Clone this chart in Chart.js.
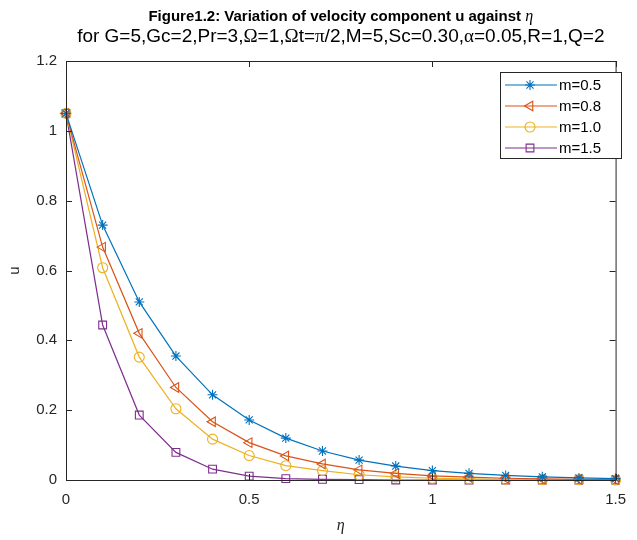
<!DOCTYPE html>
<html>
<head>
<meta charset="utf-8">
<script src="https://cdn.jsdelivr.net/npm/chart.js@4/dist/chart.umd.min.js"></script>
<style>
  html, body { margin: 0; padding: 0; background: #fff; }
  #wrap { width: 637px; height: 540px; position: relative; }
</style>
</head>
<body>
<div id="wrap"><canvas id="chart" width="637" height="540"></canvas></div>
<script>
// values
const eta = [0, 0.1, 0.2, 0.3, 0.4, 0.5, 0.6, 0.7, 0.8, 0.9, 1.0, 1.1, 1.2, 1.3, 1.4, 1.5];
const uM05 = [1.05, 0.73, 0.51, 0.355, 0.244, 0.172, 0.12, 0.083, 0.057, 0.04, 0.027, 0.019, 0.013, 0.009, 0.006, 0.004];
const uM08 = [1.05, 0.667, 0.42, 0.265, 0.167, 0.107, 0.069, 0.046, 0.029, 0.019, 0.012, 0.008, 0.005, 0.003, 0.002, 0.001];
const uM10 = [1.05, 0.608, 0.352, 0.204, 0.117, 0.07, 0.041, 0.027, 0.015, 0.009, 0.005, 0.003, 0.002, 0.001, 0.001, 0];
const uM15 = [1.05, 0.444, 0.186, 0.079, 0.031, 0.011, 0.004, 0.002, 0.001, 0, 0, 0, 0, 0, 0, 0];
const seriesNames = ["m=0.5", "m=0.8", "m=1.0", "m=1.5"];
const xTicks = [0, 0.5, 1, 1.5];
const yTicks = [0, 0.2, 0.4, 0.6, 0.8, 1, 1.2];

const AXIS = "#262626";
const FONT = "'Liberation Sans', Arial, Helvetica, sans-serif";
const SERIF = "'Liberation Serif', 'DejaVu Serif', serif";

function pts(ys) {
  return eta.map((x, i) => ({ x, y: ys[i] }));
}

function ds(label, ys, color, style, radius, rotation) {
  return {
    label,
    data: pts(ys),
    borderColor: color,
    backgroundColor: "transparent",
    borderWidth: 1.2,
    pointStyle: style,
    pointRotation: rotation || 0,
    pointRadius: radius,
    pointBorderWidth: 1.1,
    pointBorderColor: color,
    pointBackgroundColor: "transparent",
    tension: 0,
    clip: false,
  };
}

// one line of text in several fonts, centred on cx
function drawRuns(ctx, runs, cx, y) {
  let total = 0;
  runs.forEach(r => { ctx.font = r.font; r.w = ctx.measureText(r.text).width; total += r.w; });
  let x = cx - total / 2;
  ctx.textBaseline = "middle";
  ctx.textAlign = "left";
  runs.forEach(r => { ctx.font = r.font; ctx.fillText(r.text, x, y); x += r.w; });
}

const decorPlugin = {
  id: "decor",
  afterDraw(chart) {
    const { ctx, chartArea: a, scales } = chart;
    ctx.save();

    // box + inward ticks
    ctx.strokeStyle = AXIS;
    ctx.lineWidth = 1;
    ctx.strokeRect(a.left + 0.5, a.top + 0.5, a.right - a.left, a.bottom - a.top);
    ctx.beginPath();
    xTicks.forEach(v => {
      const px = Math.round(scales.x.getPixelForValue(v)) + 0.5;
      ctx.moveTo(px, a.bottom); ctx.lineTo(px, a.bottom - 6);
      ctx.moveTo(px, a.top); ctx.lineTo(px, a.top + 6);
    });
    yTicks.forEach(v => {
      const py = Math.round(scales.y.getPixelForValue(v)) + 0.5;
      ctx.moveTo(a.left, py); ctx.lineTo(a.left + 6, py);
      ctx.moveTo(a.right, py); ctx.lineTo(a.right - 6, py);
    });
    ctx.stroke();

    // titles
    ctx.fillStyle = "#000";
    const cx = (a.left + a.right) / 2;
    drawRuns(ctx, [
      { text: "Figure1.2: Variation of velocity component u against ", font: "bold 15px " + FONT },
      { text: "η", font: "italic 16px " + SERIF },
    ], cx, 17);
    const nf = "19px " + FONT;
    const sym = "19px " + SERIF;
    drawRuns(ctx, [
      { text: "for G=5,Gc=2,Pr=3,", font: nf },
      { text: "Ω", font: sym },
      { text: "=1,", font: nf },
      { text: "Ω", font: sym },
      { text: "t=", font: nf },
      { text: "π", font: sym },
      { text: "/2,M=5,Sc=0.30,", font: nf },
      { text: "α", font: sym },
      { text: "=0.05,R=1,Q=2", font: nf },
    ], cx, 37);

    // legend
    const lx = 500, ly = 72, lw = 121, lh = 86;
    ctx.fillStyle = "#fff";
    ctx.fillRect(lx, ly, lw, lh);
    ctx.strokeStyle = AXIS;
    ctx.strokeRect(lx + 0.5, ly + 0.5, lw, lh);
    chart.data.datasets.forEach((d, i) => {
      const y = ly + 13 + i * 21;
      ctx.strokeStyle = d.borderColor;
      ctx.lineWidth = 1.2;
      ctx.beginPath();
      ctx.moveTo(lx + 5, y); ctx.lineTo(lx + 57, y);
      ctx.stroke();
      ctx.lineWidth = 1.1;
      ctx.fillStyle = "rgba(0,0,0,0)";
      Chart.helpers.drawPoint(ctx, {
        pointStyle: d.pointStyle, rotation: d.pointRotation,
        radius: d.pointRadius, borderWidth: 1.1,
      }, lx + 30, y);
      ctx.fillStyle = "#000";
      ctx.font = "15px " + FONT;
      ctx.textAlign = "left";
      ctx.textBaseline = "middle";
      ctx.fillText(d.label, lx + 59, y + 1);
    });
    ctx.restore();
  },
};

new Chart(document.getElementById("chart"), {
  type: "line",
  data: {
    datasets: [
      ds(seriesNames[0], uM05, "#0072BD", "star", 5),
      ds(seriesNames[1], uM08, "#D95319", "triangle", 5.5, 270),
      ds(seriesNames[2], uM10, "#EDB120", "circle", 5),
      ds(seriesNames[3], uM15, "#7E2F8E", "rect", 5.5),
    ],
  },
  options: {
    responsive: false,
    animation: false,
    layout: { padding: { top: 61, right: 10, left: 0, bottom: 0 } },
    plugins: { legend: { display: false }, title: { display: false }, tooltip: { enabled: false } },
    scales: {
      x: {
        type: "linear", min: 0, max: 1.5,
        afterBuildTicks: s => { s.ticks = xTicks.map(v => ({ value: v })); },
        afterFit: s => { s.height = 60; },
        grid: { display: false, drawTicks: false, tickLength: 0 },
        border: { display: false },
        ticks: { color: AXIS, padding: 11, maxRotation: 0, font: { family: FONT, size: 15 },
                 callback: v => String(v) },
        title: { display: true, text: "η", color: AXIS, padding: { bottom: 5 },
                 font: { family: SERIF, size: 16, style: "italic" } },
      },
      y: {
        min: 0, max: 1.2,
        afterBuildTicks: s => { s.ticks = yTicks.map(v => ({ value: v })); },
        afterFit: s => { s.width = 66; },
        grid: { display: false, drawTicks: false, tickLength: 0 },
        border: { display: false },
        ticks: { color: AXIS, padding: 9, font: { family: FONT, size: 15 },
                 callback: v => String(v) },
        title: { display: true, text: "u", color: AXIS, padding: { top: 6 },
                 font: { family: FONT, size: 15 } },
      },
    },
  },
  plugins: [decorPlugin],
});
</script>
</body>
</html>
